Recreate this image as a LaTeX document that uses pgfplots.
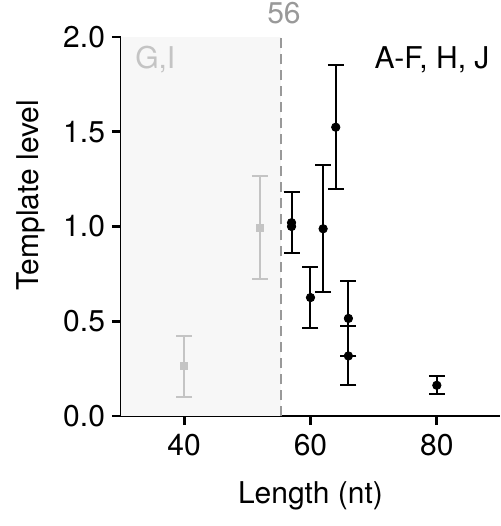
\documentclass[border=0pt]{standalone}
\usepackage{fontspec}
\setmainfont{TeX Gyre Heros}
\usepackage{pgfplots}
\pgfplotsset{compat=1.18}

\definecolor{shade}{HTML}{F7F7F7}
\definecolor{lgray}{HTML}{C4C4C4}
\definecolor{dgray}{HTML}{999999}

\newcommand{\chartfont}{\fontsize{15}{18}\selectfont}

\begin{document}
\begin{tikzpicture}
\useasboundingbox (-60.5pt,-55pt) rectangle (189.5pt,208pt);
\begin{axis}[scale only axis,width=189.5pt,height=189.5pt,
  xmin=30,xmax=90,ymin=0,ymax=2,clip=false,
  axis lines=left,axis line style={-,line width=1.4pt},
  tick align=outside,major tick length=4.5pt,tick style={line width=1.4pt,black},
  xtick={40,60,80},ytick={0,0.5,1,1.5,2},minor tick num=0,
  tick label style={font=\chartfont},
  label style={font=\chartfont},
  /pgf/number format/assume math mode=true,
  yticklabel style={/pgf/number format/.cd,fixed,fixed zerofill,precision=1},
  xticklabel style={yshift=-1pt},
  xlabel={Length (nt)},ylabel={Template level},
  xlabel style={yshift=-6pt},
  ylabel style={at={(ticklabel cs:0.582)},yshift=2pt},
  error bars/error bar style={line width=1pt},
  error bars/error mark options={rotate=90,mark size=4pt,line width=1pt}]
% shaded region below 56 nt
\addplot[draw=none,fill=shade] coordinates {(30,2) (55.3,2)} \closedcycle;
\addplot[dgray,line width=1pt,dash pattern=on 5pt off 3pt] coordinates {(55.3,0) (55.3,2)};
% G, I (grey)
\addplot[only marks,mark=square*,mark size=1.8pt,color=lgray,
  error bars/.cd,y dir=both,y explicit] coordinates {
  (40,0.263) += (0,0.157) -= (0,0.163)
  (52,0.993) += (0,0.272) -= (0,0.268)
};
% A-F, H, J (black)
\addplot[only marks,mark=*,mark size=2.1pt,color=black,
  error bars/.cd,y dir=both,y explicit] coordinates {
  (57,1.02) += (0,0.16) -= (0,0.16)
  (57,1.00) += (0,0.18) -= (0,0.14)
  (60,0.625) += (0,0.16) -= (0,0.159)
  (62,0.988) += (0,0.335) -= (0,0.332)
  (64,1.524) += (0,0.326) -= (0,0.326)
  (66,0.515) += (0,0.198) -= (0,0.198)
  (66,0.317) += (0,0.159) -= (0,0.155)
  (80,0.162) += (0,0.048) -= (0,0.047)
};
\node[dgray,anchor=south,font=\chartfont] at (axis cs:55.8,2.03) {56};
\node[lgray,anchor=west,inner sep=0pt,font=\chartfont] at (axis cs:32.2,1.88) {G,I};
\node[black,anchor=east,inner sep=0pt,font=\chartfont] at (axis cs:88.4,1.88) {A-F, H, J};
\end{axis}
\end{tikzpicture}
\end{document}
